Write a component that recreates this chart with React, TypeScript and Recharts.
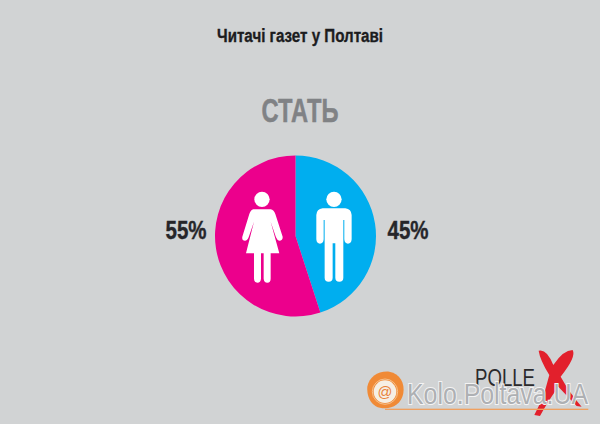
import React from "react";
import { PieChart, Pie, Cell } from "recharts";

const genders = ["Чоловіки", "Жінки"];
const shares = [45, 55];
const sliceColors = ["#00aeef", "#ec008c"];
const title = "Читачі газет у Полтаві";
const subtitle = "СТАТЬ";
const logoWord = "POLLE";
const watermark = "Kolo.Poltava.UA";

const data = genders.map((name, i) => ({ name, value: shares[i] }));
const narrow = "'Liberation Sans Narrow', 'Liberation Sans', sans-serif";

function Overlay() {
  return (
    <svg width={600} height={424} style={{ position: "absolute", left: 0, top: 0, pointerEvents: "none" }}>
      <text x={300} y={42} textAnchor="middle" fontFamily={narrow} fontWeight={700} fontSize={18} fill="#1c1c1e" stroke="#1c1c1e" strokeWidth={0.35} textLength={166} lengthAdjust="spacingAndGlyphs">{title}</text>
      <text x={300} y={122} textAnchor="middle" fontFamily={narrow} fontWeight={700} fontSize={34} fill="#808285" stroke="#808285" strokeWidth={0.5} textLength={77} lengthAdjust="spacingAndGlyphs">{subtitle}</text>
      <text x={186} y={239} textAnchor="middle" fontFamily={narrow} fontWeight={700} fontSize={26} fill="#26262a" stroke="#26262a" strokeWidth={0.4} textLength={41} lengthAdjust="spacingAndGlyphs">{`${shares[1]}%`}</text>
      <text x={408} y={239} textAnchor="middle" fontFamily={narrow} fontWeight={700} fontSize={26} fill="#26262a" stroke="#26262a" strokeWidth={0.4} textLength={41} lengthAdjust="spacingAndGlyphs">{`${shares[0]}%`}</text>

      <g transform="translate(150 140) scale(0.3333)" fill="#ffffff">
        <circle cx={336} cy={178} r={23} />
        <path d="M310,208 L362,208 Q372,210 376,222 L398,290 Q399,302 388,302 Q382,302 378,292 L362,245 L388,340 L362,340 L362,416 Q362,428 352,428 Q342,428 341,416 L341,340 L333,340 L333,416 Q332,428 322,428 Q312,428 312,416 L312,340 L288,340 L312,245 L296,292 Q292,302 285,302 Q275,302 277,290 L298,222 Q302,210 310,208 Z" />
        <circle cx={552} cy={178} r={23} />
        <path d="M518,205 L586,205 Q604,207 605,225 L605,298 Q604,311 594,311 Q584,311 583,298 L583,240 L580,240 L580,413 Q580,425 568,425 Q556,425 556,413 L556,310 L548,310 L548,413 Q548,425 536,425 Q524,425 524,413 L524,240 L521,240 L521,298 Q520,311 510,311 Q500,311 499,298 L499,225 Q500,207 518,205 Z" />
      </g>

      <g transform="translate(350 340) scale(0.3333)">
        <path d="M566,32 Q590,25 610,75 Q640,30 668,30 Q680,50 632,110 Q660,160 695,200 L680,198 L625,140 Q590,190 570,228 L553,225 L580,170 L598,105 Q570,60 566,32 Z" fill="#e2202c" />
        <path d="M105,205 C60,205 50,165 52,140 C58,110 85,92 118,95 C150,100 165,130 160,160 C155,190 130,205 105,205 Z" fill="#f08a36" />
        <circle cx={105} cy={155} r={34} fill="#f6efe4" />
        <circle cx={105} cy={155} r={38} fill="none" stroke="#f5c08c" strokeWidth={3} />
        <text x={105} y={170} textAnchor="middle" fontFamily="'Liberation Sans', sans-serif" fontSize={44} fill="#e8823a">@</text>
        <rect x={105} y={206} width={610} height={4} fill="#f0a060" />
      </g>
      <text x={475} y={386} fontFamily="'Liberation Sans', sans-serif" fontSize={24} fill="#2a2a2c" textLength={60} lengthAdjust="spacingAndGlyphs">{logoWord}</text>
      <text transform="translate(407 404) scale(1 1.14)" x={0} y={0} fontFamily="'Liberation Sans', sans-serif" fontSize={26} fill="#aeb0b3" stroke="#f4f4f4" strokeWidth={1.8} paintOrder="stroke" textLength={181} lengthAdjust="spacingAndGlyphs">{watermark}</text>
    </svg>
  );
}

export default function App() {
  return (
    <div style={{ position: "absolute", left: 0, top: 0, width: 600, height: 424, background: "#d1d3d4", overflow: "hidden" }}>
      <PieChart width={600} height={424} margin={{ top: 0, right: 0, bottom: 0, left: 0 }}>
        <Pie
          data={data}
          dataKey="value"
          nameKey="name"
          cx={295.5}
          cy={236}
          innerRadius={0}
          outerRadius={80.5}
          startAngle={90}
          endAngle={-270}
          stroke="none"
          isAnimationActive={false}
          label={false}
          labelLine={false}
        >
          {data.map((d, i) => (
            <Cell key={d.name} fill={sliceColors[i]} />
          ))}
        </Pie>
      </PieChart>
      <Overlay />
    </div>
  );
}
